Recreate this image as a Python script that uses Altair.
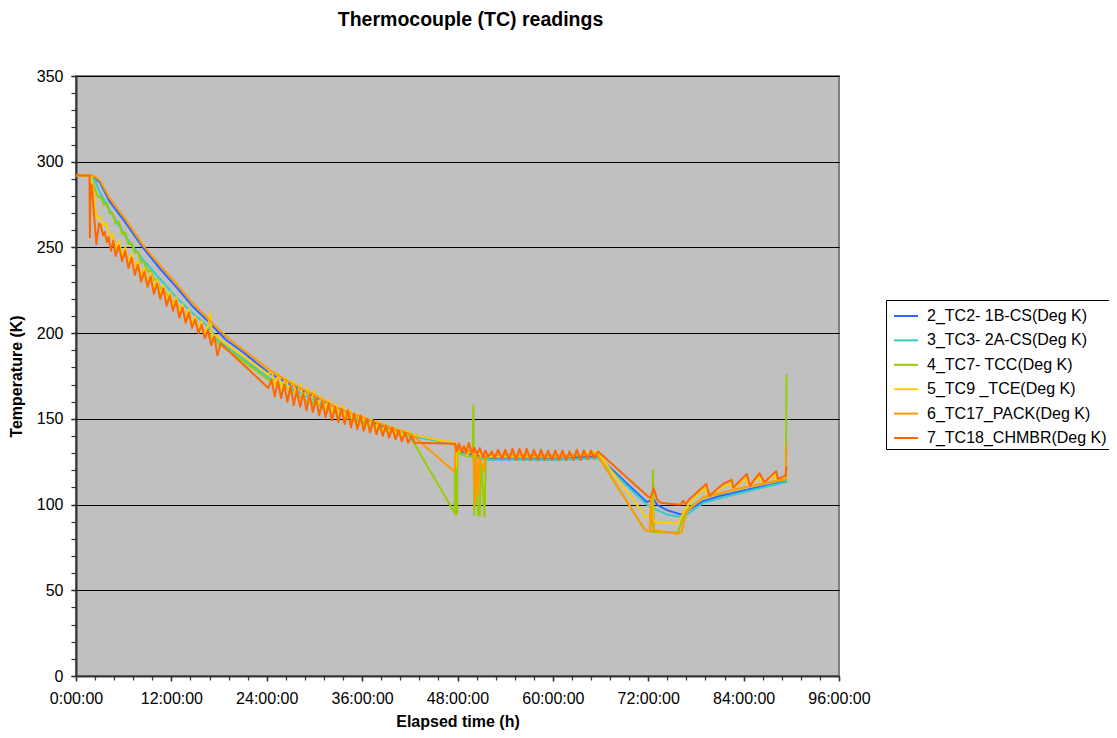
import altair as alt
import pandas as pd

FONT = "Liberation Sans, Arial"

series_names = ["2_TC2- 1B-CS(Deg K)", "3_TC3- 2A-CS(Deg K)", "4_TC7- TCC(Deg K)",
                "5_TC9 _TCE(Deg K)", "6_TC17_PACK(Deg K)", "7_TC18_CHMBR(Deg K)"]
series_colors = ["#3366FF", "#33CCCC", "#99CC00", "#FFCC00", "#FF9900", "#FF6600"]

y_major = [0, 50, 100, 150, 200, 250, 300, 350]
y_minor = list(range(0, 351, 10))
x_major = [0, 12, 24, 36, 48, 60, 72, 84, 96]
x_minor = [round(k * 2.4, 1) for k in range(41)]

# ---- TC2 (blue)
tc2_t = [0, 2.0, 2.5, 3.0, 4.2, 6.3, 8.4, 10.5, 12.6, 14.6, 16.7, 18.9, 21.0, 24.2, 27.0, 30.0,
         33.0, 36.0, 39.0, 42.0, 45.8, 47.7, 48.2, 49.0, 50.0, 51.5, 52.0, 56.0, 60.0, 65.7,
         71.8, 72.7, 73.2, 74.5, 76.0, 76.5, 77.0, 78.9, 81.0, 83.1, 85.0, 87.3, 89.4]
tc2_v = [292, 292, 290, 288, 277, 264, 250, 238, 227, 216, 206.5, 196, 189, 177, 170, 163,
         156, 150, 145, 141, 137.4, 135.5, 131.5, 130, 129, 127.5, 127.3, 127.5, 127.3, 128,
         101.5, 103, 99.5, 96.5, 94.4, 94.5, 96.5, 102, 105, 107.2, 109.3, 111.5, 113.8]

# ---- TC3 (cyan)
tc3_t = [0, 2.0, 2.5, 3.0, 4.2, 6.3, 8.4, 10.5, 12.6, 14.6, 16.7, 17.9, 24.2, 27.0, 30.0, 33.0,
         36.0, 39.0, 42.0, 45.8, 47.7, 48.2, 50.0, 52.0, 56.0, 60.0, 65.7, 71.8, 73.0, 74.5,
         76.0, 76.7, 78.9, 83.1, 87.3, 89.4]
tc3_v = [292, 292, 288, 282, 272, 256, 243, 232, 221, 212, 203.5, 196, 174, 168, 161, 154,
         149, 144, 140, 137, 135, 130.5, 127.5, 126, 126.2, 126, 127, 100, 97, 94,
         92.8, 93.5, 101, 106.2, 111, 113.2]

# ---- TC7 (green)
tc7_t = [0, 1.9, 2.3, 2.7, 3.2, 3.5, 3.9, 4.2, 4.6, 5.0, 5.4, 5.8, 6.2, 6.6, 7.0, 7.4, 7.8,
         8.2, 8.6, 9.0, 9.4, 9.8, 10.2, 10.6, 11.0, 11.4, 11.8, 12.2, 12.6, 13.0, 13.4, 13.8,
         14.2, 14.6, 15.0, 15.4, 15.8, 16.2, 16.6, 17.0, 17.4, 17.9,
         24.2, 25.0, 25.5, 26.0, 26.5, 27.0, 27.5, 28.0, 28.5, 29.0, 29.5, 30.0, 30.5, 31.0,
         31.5, 32.0, 32.5, 33.0, 33.5, 34.0, 34.5, 35.0, 35.5, 36.0, 36.5, 37.0, 37.5, 38.0,
         38.5, 39.0, 39.5, 40.0, 40.5, 41.0, 41.5, 42.0,
         47.65, 47.7, 47.78, 47.95, 48.0, 48.5, 49.0, 49.9, 50.0, 50.1, 50.25, 50.6, 50.8,
         50.95, 51.4, 51.55, 52.0, 56.0, 60.0, 65.6,
         71.6, 72.55, 72.6, 72.7, 75.7, 76.7, 78.9, 83.1, 87.3, 89.3, 89.4]
tc7_v = [292, 292, 285, 280, 279, 275, 276, 270, 270, 264, 265, 258, 258.5, 252, 252.5, 247, 247.5,
         241, 241.5, 236, 236.5, 231, 231.5, 226, 226.5, 222, 222.5, 218, 218.5, 214, 214.5, 210,
         210.5, 206, 206.5, 203, 203.5, 200, 200.5, 197, 197.5, 194,
         173, 170, 171, 167.5, 168.5, 165, 166, 162.5, 163.5, 160, 161, 158, 159, 156,
         157, 154, 155, 152, 153, 150, 151, 148.5, 149.5, 147, 148, 145.5, 146.5, 144,
         145, 143, 144, 141.5, 142.5, 140.5, 141.5, 140,
         95, 131, 94, 95, 131, 129, 128.5, 128, 158, 94, 127, 94, 93.5,
         126, 93, 126, 128, 128, 128, 129,
         85, 84, 120, 84, 83.5, 96.7, 104, 109, 113, 114.5, 176]

# ---- TC9 (yellow)
tc9_t = [0, 1.9, 2.1, 2.6, 3.0, 3.4, 3.8, 4.2, 4.6, 5.0, 5.4, 5.8, 6.2, 6.6, 7.0, 7.4, 7.8,
         8.2, 8.6, 9.0, 9.4, 9.8, 10.2, 10.6, 11.0, 11.4, 11.8, 12.2, 12.6, 13.0, 13.4, 13.8,
         14.2, 14.6, 15.0, 15.4, 15.8, 16.2, 16.6, 16.9, 17.1, 17.5, 18.2,
         24.2, 24.6, 25.0, 25.5, 25.9, 26.4, 26.8, 27.3, 27.7, 28.2, 28.6, 29.1, 29.5, 30.0,
         30.4, 30.9, 31.3, 31.8, 32.2, 32.7, 33.1, 33.6, 34.0, 34.5, 34.9, 35.4, 35.8, 36.3,
         36.7, 37.2, 37.6, 38.1, 38.5, 39.0, 39.4, 39.9, 40.3, 40.8, 41.2, 41.7, 42.1,
         45.8, 47.7, 47.8, 47.9, 48.3, 48.7, 49.2, 49.7, 50.2, 50.6, 51.0, 51.5, 52.0, 54.0,
         58.0, 62.0, 65.5,
         71.4, 71.6, 72.2, 72.4, 72.6, 73.0, 75.7, 76.5, 77.2, 79.2, 79.4, 81.4, 82.4, 82.6,
         84.3, 84.5, 86.0, 86.2, 88.0, 88.2, 89.3, 89.4]
tc9_v = [292, 292, 285, 267, 268, 263, 264, 256, 258, 249, 254, 245, 250, 241, 246, 237, 242,
         233, 238, 229, 235, 226, 231, 222, 228, 219, 224, 215, 221, 212, 217, 208,
         214, 205, 210, 202, 207, 199, 204, 212, 198, 199, 196,
         176, 178, 170, 176, 168, 174, 166, 172, 164, 170, 162, 168, 160, 166.5,
         158, 163, 156, 161, 154, 159, 152, 157.5, 150, 155, 148, 153, 146.5, 151.5,
         145, 150, 143.5, 148.5, 142, 147, 141, 145.5, 140, 144, 139, 143, 141,
         137.5, 136, 122, 134, 131, 133, 129, 132, 128, 131, 128, 130, 128, 128,
         128, 128, 131,
         94.8, 92.8, 93, 106, 91, 89.5, 89, 95.7, 101, 110, 104.5, 110.5, 112.5, 109,
         115.5, 110, 116.5, 112, 117.5, 114, 115, 116]

# ---- TC17 PACK (orange)
tc17_t = [0, 2.0, 2.5, 3.0, 4.2, 6.3, 8.4, 10.5, 12.6, 14.6, 16.7, 18.9, 21.0, 24.2, 27.0,
          30.0, 33.0, 36.0, 39.0, 42.2, 47.65, 47.75, 48.2, 48.8, 49.4, 50.0, 50.2, 50.35,
          50.6, 50.75, 51.3, 51.45, 52.0, 56.0, 60.0, 65.6,
          71.6, 72.2, 72.35, 72.55, 75.7, 76.2, 76.8, 78.9, 83.1, 87.3, 89.3, 89.4]
tc17_v = [292, 292, 291, 289, 279, 266, 251.5, 240, 229, 218, 208, 198, 190.5, 179, 171,
          164, 156, 151, 146, 141, 119, 135, 132, 134, 131, 133, 99.6, 130,
          105, 128, 119, 128, 129, 129, 128.5, 129,
          85, 84.5, 106, 85, 83, 84, 95.7, 104.3, 109, 113, 115, 134.5]

# ---- TC18 CHMBR (orange-red)
tc18_t = [0, 1.7, 1.75, 1.85, 2.0, 2.55, 2.9, 3.1, 3.4, 3.6, 3.9, 4.1, 4.4, 4.7, 5.0, 5.4,
          5.8, 6.2, 6.6, 7.0, 7.4, 7.8, 8.2, 8.6, 9.0, 9.4, 9.8, 10.2, 10.6, 11.0, 11.4,
          11.8, 12.2, 12.6, 13.0, 13.4, 13.8, 14.2, 14.6, 15.0, 15.4, 15.8, 16.2, 16.6,
          17.0, 17.4, 17.8, 18.2,
          24.2, 24.6, 25.0, 25.4, 25.8, 26.2, 26.6, 27.0, 27.4, 27.8, 28.2, 28.6, 29.0, 29.4,
          29.8, 30.2, 30.6, 31.0, 31.4, 31.8, 32.2, 32.6, 33.0, 33.4, 33.8, 34.2, 34.6, 35.0,
          35.4, 35.8, 36.2, 36.6, 37.0, 37.4, 37.8, 38.2, 38.6, 39.0, 39.4, 39.8, 40.2, 40.6,
          41.0, 41.4, 41.8, 42.2, 42.6, 47.7,
          47.9, 48.2, 48.5, 48.8, 49.1, 49.4, 49.8, 50.1, 50.5, 50.8, 51.2, 51.5, 51.9, 52.3,
          52.7, 53.1, 53.6, 54.0, 54.5, 54.9, 55.4, 55.8, 56.3, 56.7, 57.2, 57.6, 58.1, 58.5,
          59.0, 59.4, 59.9, 60.3, 60.8, 61.2, 61.7, 62.1, 62.6, 63.0, 63.5, 63.9, 64.4, 64.8,
          65.2, 65.7,
          72.0, 72.3, 72.7, 73.1, 73.6, 75.5, 76.1, 76.4, 76.7, 77.2, 79.3, 79.7, 81.4, 82.5,
          82.7, 84.4, 84.8, 86.0, 86.6, 88.1, 88.3, 89.3, 89.4]
tc18_v = [292, 292, 256, 287, 286, 252, 264, 263, 257, 259, 253, 256, 248, 254, 245, 251,
          242, 248, 238, 244, 234, 240, 230, 236, 227, 233, 223, 229, 220, 226, 216,
          222, 213, 219, 209, 215, 206, 212, 203, 208, 200, 205, 197, 202,
          193, 198, 187, 194,
          168, 173, 163, 172, 162, 170, 160, 169, 158, 167, 157, 165, 155, 164,
          154, 162, 152, 160, 151, 159, 149, 157, 148, 156, 147, 155, 145, 153,
          144, 152, 143, 150, 142, 149, 141, 147, 140, 146, 139, 145, 138, 143,
          137, 142, 136, 140, 136, 135.5,
          131, 135.5, 130.5, 134, 130, 136, 130, 133, 129.5, 133, 127.7, 131.5, 128, 131,
          127, 132, 126.5, 132, 126.5, 132.5, 126, 132.5, 126, 132.5, 126, 132, 126, 132,
          126, 131.5, 126, 131.5, 126, 131.5, 126, 131, 126, 132, 126, 131.5, 126.5, 131.5,
          127, 131,
          104.5, 104, 109.5, 103, 101, 100, 100, 102.3, 100, 103.3, 112, 105.2, 112, 114.4,
          110, 117.9, 111, 118.3, 113, 119.5, 115, 117, 122]

all_t = [tc2_t, tc3_t, tc7_t, tc9_t, tc17_t, tc18_t]
all_v = [tc2_v, tc3_v, tc7_v, tc9_v, tc17_v, tc18_v]

rows = []
for name, ts, vs in zip(series_names, all_t, all_v):
    for i, (t, v) in enumerate(zip(ts, vs)):
        rows.append({"series": name, "t": t, "v": v, "i": i})
df = pd.DataFrame(rows)

xscale = alt.Scale(domain=[0, 96], nice=False, zero=False)
yscale = alt.Scale(domain=[0, 350], nice=False)

lines = alt.Chart(df).mark_line(strokeWidth=2, strokeJoin="round").encode(
    x=alt.X("t:Q", scale=xscale,
            axis=alt.Axis(orient="bottom", values=x_major, labelExpr="datum.value + ':00:00'",
                          labelFlush=False, labelOverlap=False,
                          title="Elapsed time (h)", grid=False, tickSize=5, tickColor="#333333",
                          tickWidth=1.5, labelPadding=9, titlePadding=7,
                          domainColor="#333333", domainWidth=2)),
    y=alt.Y("v:Q", scale=yscale,
            axis=alt.Axis(orient="left", values=y_major, title="Temperature (K)", grid=True,
                          labelFlush=False, labelOverlap=False,
                          gridColor="#000000", gridWidth=1, tickSize=5, tickColor="#333333",
                          tickWidth=1.5, labelPadding=8, titlePadding=12,
                          domainColor="#333333", domainWidth=2)),
    color=alt.Color("series:N", scale=alt.Scale(domain=series_names, range=series_colors),
                    legend=alt.Legend(title=None, orient="none", legendX=810, legendY=224,
                                      symbolType="stroke", symbolSize=576, symbolStrokeWidth=2,
                                      symbolOffset=4,
                                      labelFontSize=16, labelFont=FONT, labelOffset=8,
                                      labelLimit=400, strokeColor="#000000", fillColor="#FFFFFF",
                                      padding=3, rowPadding=3.4)),
    order=alt.Order("i:Q"),
)

minor = alt.Chart(df).mark_point(opacity=0).encode(
    x=alt.X("t:Q", scale=xscale,
            axis=alt.Axis(orient="bottom", values=x_minor, labels=False, title="", grid=False,
                          domain=False, tickSize=4, tickColor="#333333", tickWidth=1.2)),
    y=alt.Y("v:Q", scale=yscale,
            axis=alt.Axis(orient="left", values=y_minor, labels=False, title="", grid=False,
                          domain=False, tickSize=5, tickColor="#333333", tickWidth=1.2)),
)

chart = alt.layer(lines, minor).resolve_axis(x="independent", y="independent").properties(
    width=763, height=600,
    autosize=alt.AutoSizeParams(type="none"),
    padding={"left": 68, "top": 68, "right": 270, "bottom": 54},
    title=alt.TitleParams("Thermocouple (TC) readings", fontSize=19.5, font=FONT,
                          fontWeight="bold", anchor="middle", dx=13, offset=38, color="#000000"),
).configure_view(
    fill="#C0C0C0", stroke="#808080", strokeWidth=2
).configure_axis(
    labelFont=FONT, labelFontSize=16, labelColor="#000000",
    titleFont=FONT, titleFontSize=16, titleFontWeight="bold", titleColor="#000000"
)

chart.save("out.html", embed_options={"renderer": "svg", "actions": False})
